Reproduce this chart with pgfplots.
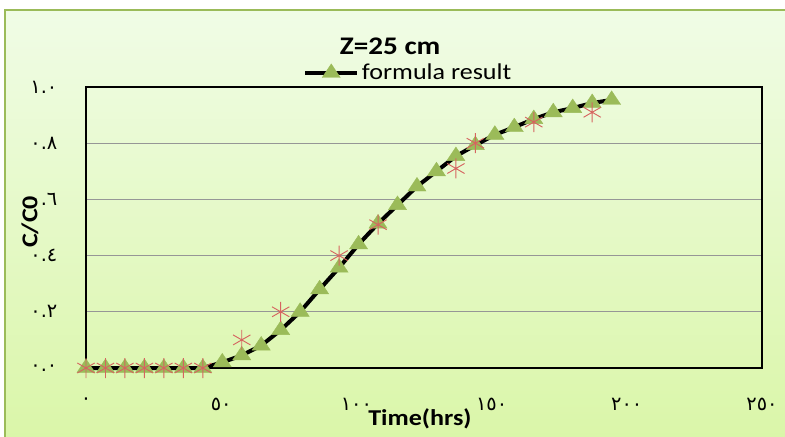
\documentclass[border=0pt]{standalone}
\usepackage{pgfplots}
\usepackage{pgfplotstable}
\pgfplotsset{compat=1.18}
\usepackage{fontspec}
\setmainfont{Carlito}[FakeStretch=1.15]
\newfontfamily\arabicfont[Script=Arabic]{DejaVu Sans}
\definecolor{bgtop}{RGB}{240,252,230}
\definecolor{bgbot}{RGB}{218,246,168}
\definecolor{olivegr}{RGB}{155,187,89}
\definecolor{astred}{RGB}{214,100,96}
\definecolor{gridgray}{RGB}{150,150,150}

\pgfplotstableread{
t v
0 0
7.2 0
14.4 0
21.6 0
28.8 0
36 0
43.2 0
50.4 0.02
57.6 0.045
64.8 0.08
72 0.135
79.2 0.2
86.4 0.28
93.6 0.357
100.8 0.44
108 0.514
115.2 0.58
122.4 0.646
129.6 0.70
136.8 0.754
144 0.793
151.2 0.83
158.4 0.857
165.6 0.886
172.8 0.91
180 0.925
187.2 0.943
194.4 0.954
}\formula

\pgfplotstableread{
t v
0 0
7.2 0
14.4 0
21.6 0
28.8 0
36 0
43.2 0
57.6 0.1
72 0.2
93.6 0.4
108 0.51
136.8 0.71
144 0.80
165.6 0.875
187.2 0.91
}\expdata

\begin{document}
\begin{tikzpicture}
\useasboundingbox (0,0) rectangle (588.75pt,327pt);
\clip (0,0) rectangle (588.75pt,327pt);
\shade[top color=bgtop,bottom color=bgbot] (3.75pt,-5pt) rectangle (595pt,319.5pt);
\draw[olivegr,line width=1.8pt] (3.75pt,-5pt) rectangle (595pt,319.5pt);
\begin{axis}[
  at={(64.5pt,51pt)}, anchor=south west,
  scale only axis, width=507pt, height=210.75pt,
  xmin=0, xmax=250, ymin=0, ymax=1,
  xtick={0,50,100,150,200,250},
  ytick={0,0.2,0.4,0.6,0.8,1.0},
  xticklabels={٠,٥٠,١٠٠,١٥٠,٢٠٠,٢٥٠},
  yticklabels={٠.٠,٠.٢,٠.٤,٠.٦,٠.٨,١.٠},
  tick label style={font=\arabicfont\fontsize{14.5}{15}\selectfont},
  xticklabel style={yshift=-19pt},
  yticklabel style={xshift=-18pt},
  major tick length=0pt,
  axis line style={line width=1.5pt},
  ymajorgrids, grid style={gridgray, line width=0.8pt},
  clip=false,
  title={Z=25 cm},
  title style={at={(0.45,1.115)}, anchor=center, font=\fontsize{19}{20}\selectfont\bfseries},
  xlabel={Time(hrs)},
  xlabel style={at={(0.494,-0.182)}, anchor=center, font=\fontsize{17}{18}\selectfont\bfseries},
  ylabel={C/C0},
  ylabel style={at={(-0.083,0.52)}, anchor=center, font=\fontsize{17}{18}\selectfont\bfseries},
  legend style={at={(0.321,1.05)}, anchor=west, draw=none, fill=none, inner sep=0pt,
    font=\fontsize{17}{18}\selectfont},
  legend cell align=left,
  legend image code/.code={\draw[mark repeat=2,mark phase=2,#1] plot coordinates {(0pt,0pt) (19.5pt,0pt) (39pt,0pt)};},
]
\addplot[black, line width=3pt, mark=triangle*, mark size=6.8pt,
  mark options={solid, xscale=1.15, line width=0.3pt, draw=olivegr, fill=olivegr}] table[x=t,y=v] {\formula};
\addlegendentry{formula result}
\addplot[forget plot, only marks, mark=asterisk, mark size=7.5pt, draw=astred,
  mark options={line width=0.7pt}] table[x=t,y=v] {\expdata};
\end{axis}
\end{tikzpicture}
\end{document}
